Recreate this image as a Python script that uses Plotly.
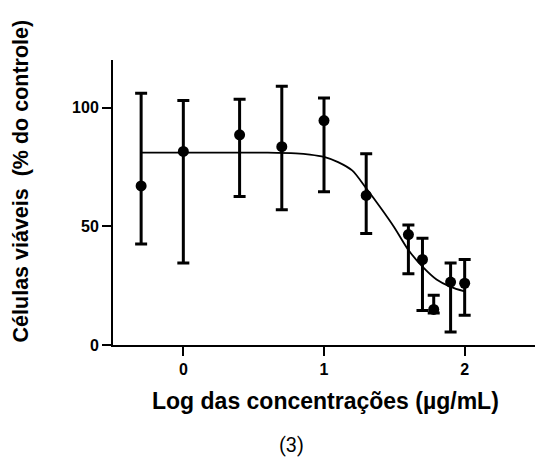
import plotly.graph_objects as go

# Data points (log concentration, % viable cells) with asymmetric error bars
log_conc = [-0.30, 0.00, 0.40, 0.70, 1.00, 1.30, 1.60, 1.70, 1.78, 1.90, 2.00]
viab = [67, 81.5, 88.5, 83.5, 94.5, 63, 46.5, 36, 15, 26.5, 26]
err_plus = [39, 21.5, 15, 25.5, 9.5, 17.5, 4, 9, 6, 8, 10]
err_minus = [24.5, 47, 26, 26.5, 30, 16, 16.5, 21.5, 1.5, 21, 13.5]

# Fitted curve
curve_x = [-0.30, 0.00, 0.30, 0.60, 0.80, 0.90, 1.00, 1.10, 1.20, 1.30, 1.40, 1.50, 1.60, 1.70, 1.80, 1.90, 2.00]
curve_y = [81, 81, 81, 81, 80.7, 80.2, 79.2, 77, 73.5, 66, 58, 49.5, 40, 33, 27.6, 24.5, 22.6]

x_ticks = [0, 1, 2]
y_ticks = [0, 50, 100]

FONT = "Liberation Sans, Arial, sans-serif"

fig = go.Figure()
fig.add_trace(go.Scatter(
    x=curve_x, y=curve_y, mode="lines",
    line=dict(color="black", width=1.8, shape="spline", smoothing=0.8),
    hoverinfo="skip", showlegend=False,
))
fig.add_trace(go.Scatter(
    x=log_conc, y=viab, mode="markers",
    marker=dict(color="black", size=11),
    error_y=dict(type="data", symmetric=False, array=err_plus, arrayminus=err_minus,
                 color="black", thickness=3, width=6),
    showlegend=False,
))

fig.update_layout(
    width=535, height=457,
    margin=dict(l=112.5, r=0, t=60, b=111.5),
    paper_bgcolor="white", plot_bgcolor="white",
    font=dict(family=FONT, color="black"),
    showlegend=False,
)
fig.update_xaxes(
    range=[-0.5, 2.5], tickvals=x_ticks, ticktext=[str(v) for v in x_ticks],
    showgrid=False, zeroline=False, showline=True, linecolor="black", linewidth=2,
    ticks="outside", ticklen=9, tickwidth=2, tickcolor="black",
    tickfont=dict(family=FONT, size=16, color="black", weight="bold"),
)
fig.update_yaxes(
    range=[0, 120], tickvals=y_ticks, ticktext=[str(v) for v in y_ticks],
    showgrid=False, zeroline=False, showline=True, linecolor="black", linewidth=2,
    ticks="outside", ticklen=9, tickwidth=2, tickcolor="black",
    tickfont=dict(family=FONT, size=16, color="black", weight="bold"),
)

fig.add_annotation(
    text="<b>Log das concentrações (µg/mL)</b>", xref="paper", yref="paper",
    x=0.503, y=-0.198, showarrow=False, xanchor="center", yanchor="middle",
    font=dict(family=FONT, size=23, color="black"),
)
fig.add_annotation(
    text="<b>Células viáveis  (% do controle)</b>", xref="paper", yref="paper",
    x=-0.219, y=0.576, showarrow=False, xanchor="center", yanchor="middle",
    textangle=-90,
    font=dict(family=FONT, size=21.5, color="black"),
)
fig.add_annotation(
    text="(3)", xref="paper", yref="paper",
    x=0.4225, y=-0.352, showarrow=False, xanchor="center", yanchor="middle",
    font=dict(family="Liberation Sans Narrow, Roboto, sans-serif", size=20, color="black"),
)

fig.write_html("out.html", config={"displayModeBar": False},
               post_script="document.body.style.margin='0';")
